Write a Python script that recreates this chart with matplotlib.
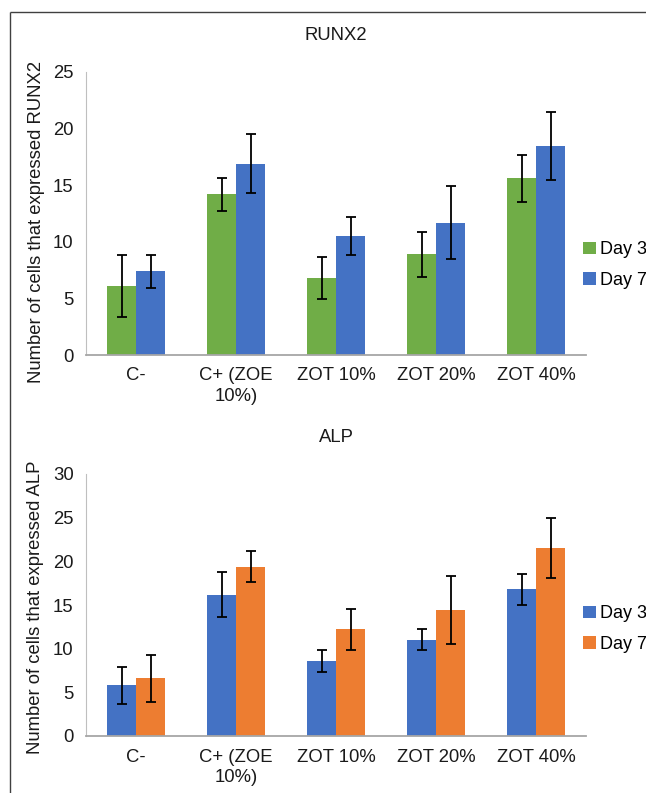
import matplotlib
matplotlib.use("Agg")
import matplotlib.pyplot as plt
import numpy as np
from matplotlib.lines import Line2D

plt.rcParams['font.family'] = ['Liberation Sans', 'DejaVu Sans']

categories = ["C-", "C+ (ZOE\n10%)", "ZOT 10%", "ZOT 20%", "ZOT 40%"]
series = ["Day 3", "Day 7"]

runx2_day3 = [6.1, 14.2, 6.8, 8.9, 15.6]
runx2_day3_err = [2.7, 1.45, 1.85, 2.0, 2.1]
runx2_day7 = [7.4, 16.9, 10.5, 11.7, 18.5]
runx2_day7_err = [1.45, 2.6, 1.65, 3.25, 3.0]

alp_day3 = [5.8, 16.2, 8.6, 11.0, 16.8]
alp_day3_err = [2.1, 2.6, 1.25, 1.2, 1.8]
alp_day7 = [6.6, 19.4, 12.2, 14.4, 21.5]
alp_day7_err = [2.7, 1.8, 2.3, 3.9, 3.45]

green = "#70AD47"
blue = "#4472C4"
orange = "#ED7D31"
txt = "#1a1a1a"
FS = 13.3

fig = plt.figure(figsize=(6.46, 7.93), dpi=100)

# frame lines (top and left)
fig.add_artist(Line2D([10/646, 1.0], [1-12/793, 1-12/793], transform=fig.transFigure,
                      color="#404040", lw=1.0, solid_capstyle='butt'))
fig.add_artist(Line2D([10/646, 10/646], [0, 1-12/793], transform=fig.transFigure,
                      color="#404040", lw=1.0, solid_capstyle='butt'))

def draw(ax, title, ylabel, d3, e3, d7, e7, c3, c7, ymax, leg_y, ylab_y):
    x = np.arange(len(categories))
    w = 0.29
    ax.bar(x - w/2, d3, w, color=c3, label=series[0], zorder=2)
    ax.bar(x + w/2, d7, w, color=c7, label=series[1], zorder=2)
    ax.errorbar(x - w/2, d3, yerr=e3, fmt='none', ecolor='black', elinewidth=1.3,
                capsize=3.7, capthick=1.3, zorder=3)
    ax.errorbar(x + w/2, d7, yerr=e7, fmt='none', ecolor='black', elinewidth=1.3,
                capsize=3.7, capthick=1.3, zorder=3)
    ax.set_xlim(-0.5, len(categories) - 0.5)
    ax.set_ylim(0, ymax)
    ax.set_yticks(np.arange(0, ymax + 1, 5))
    ax.set_xticks(x)
    ax.set_xticklabels(categories, fontsize=FS, color=txt, linespacing=1.3)
    ax.tick_params(axis='both', length=0, labelsize=FS, colors=txt)
    ax.tick_params(axis='x', pad=9)
    ax.tick_params(axis='y', pad=9)
    for s in ['top', 'right']:
        ax.spines[s].set_visible(False)
    ax.spines['left'].set_color("#BFBFBF")
    ax.spines['bottom'].set_color("#A6A6A6")
    ax.spines['bottom'].set_linewidth(1.3)
    ax.set_title(title, fontsize=FS, color=txt, pad=23)
    ax.set_ylabel(ylabel, fontsize=FS, color=txt, labelpad=6)
    ax.yaxis.label.set_y(ylab_y)
    ax.legend(loc='center left', bbox_to_anchor=(576/646, leg_y), bbox_transform=fig.transFigure,
              frameon=False, fontsize=13, handlelength=0.7, handleheight=0.7,
              handletextpad=0.25, labelspacing=0.75, borderaxespad=0)

ax1 = fig.add_axes([86/646, 1-355/793, 500/646, 283/793])
draw(ax1, "RUNX2", "Number of cells that expressed RUNX2",
     runx2_day3, runx2_day3_err, runx2_day7, runx2_day7_err, green, blue, 25, 1-265/793, 0.47)

ax2 = fig.add_axes([86/646, 1-736/793, 500/646, 262/793])
draw(ax2, "ALP", "Number of cells that expressed ALP",
     alp_day3, alp_day3_err, alp_day7, alp_day7_err, blue, orange, 30, 1-629/793, 0.49)

fig.savefig("out.png", dpi=100)
